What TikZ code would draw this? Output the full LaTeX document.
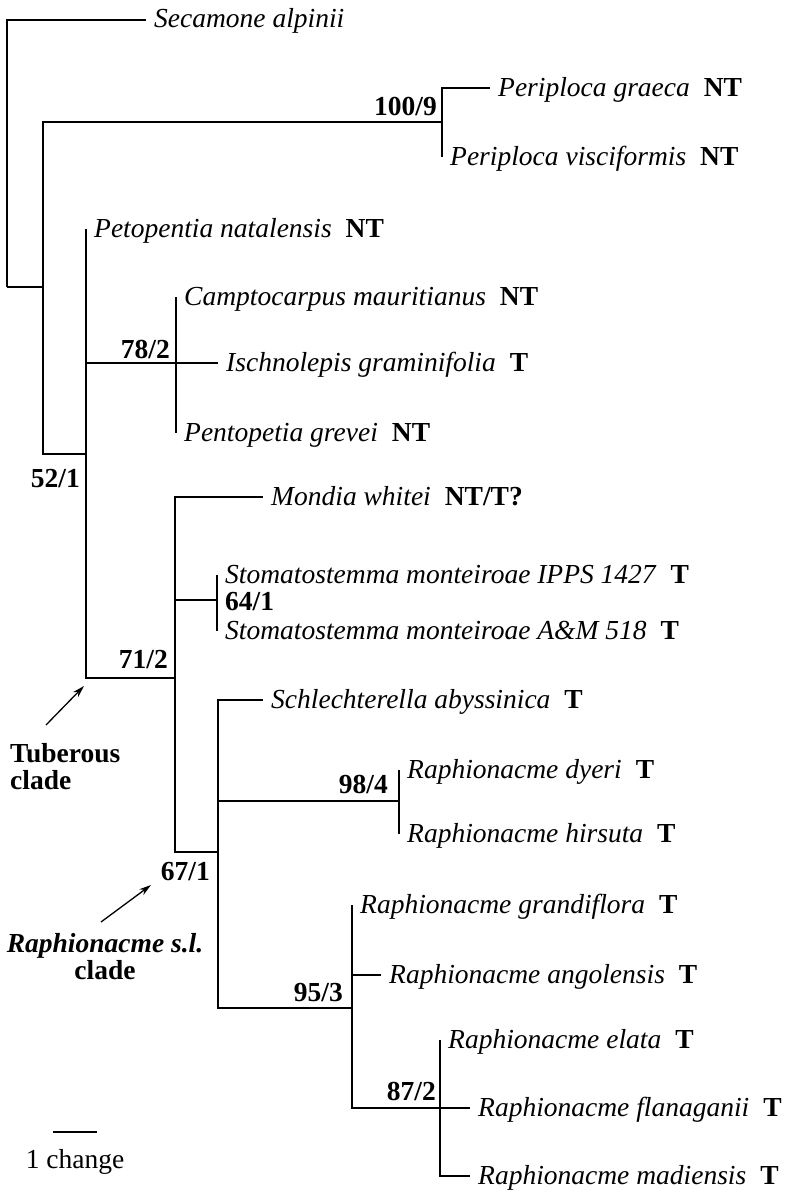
\documentclass[tikz,border=0pt]{standalone}
\usepackage{fontspec}
\setmainfont{Liberation Serif}
\usetikzlibrary{arrows.meta}

\newcommand{\treefont}{\fontsize{27.5}{27}\selectfont}
\tikzstyle{taxon}=[anchor=west,inner xsep=8pt,inner ysep=0pt,text height=21pt,text depth=5pt]
\tikzstyle{support}=[anchor=base east,inner sep=0pt,font=\treefont\bfseries]
\tikzstyle{branch}=[draw,line width=1.8pt,-]
\tikzstyle{pointer}=[draw,line width=1.3pt,-{Stealth[length=12pt,width=7pt]}]
\tikzstyle{clade}=[inner sep=0pt,font=\treefont\bfseries]
\newcommand{\taxname}[2]{\textit{#1}\hspace{14pt}\textbf{#2}}

\begin{document}
\begin{tikzpicture}[x=1pt,y=-1pt,font=\treefont]
  \useasboundingbox (0,0) rectangle (789,1199);
  % internal nodes of the tree
  \foreach \pos/\name in {{(7,287)/root}, {(43,287)/n1}, {(442,122)/peri},
                          {(86,454)/n2}, {(176,363)/c78}, {(175,678)/c71},
                          {(217,600)/c64}, {(218,852)/c67}, {(399,801)/c98},
                          {(352,1008)/c95}, {(440,1108)/c87}}
      \node[coordinate] (\name) at \pos {};

  % terminal taxa
  \node[taxon] (secamone) at (146,20) {\textit{Secamone alpinii}};
  \node[taxon] (graeca) at (490,88) {\taxname{Periploca graeca}{NT}};
  \node[taxon] (visciformis) at (442,157) {\taxname{Periploca visciformis}{NT}};
  \node[taxon] (natalensis) at (86,229) {\taxname{Petopentia natalensis}{NT}};
  \node[taxon] (mauritianus) at (176,297) {\taxname{Camptocarpus mauritianus}{NT}};
  \node[taxon] (graminifolia) at (218,363) {\taxname{Ischnolepis graminifolia}{T}};
  \node[taxon] (grevei) at (176,433) {\taxname{Pentopetia grevei}{NT}};
  \node[taxon] (whitei) at (263,497) {\taxname{Mondia whitei}{NT/T?}};
  \node[taxon] (ipps) at (217,575) {\taxname{Stomatostemma monteiroae IPPS 1427}{T}};
  \node[taxon] (am) at (217,631) {\taxname{Stomatostemma monteiroae A\&M 518}{T}};
  \node[taxon] (abyssinica) at (263,700) {\taxname{Schlechterella abyssinica}{T}};
  \node[taxon] (dyeri) at (399,770) {\taxname{Raphionacme dyeri}{T}};
  \node[taxon] (hirsuta) at (399,834) {\taxname{Raphionacme hirsuta}{T}};
  \node[taxon] (grandiflora) at (352,905) {\taxname{Raphionacme grandiflora}{T}};
  \node[taxon] (angolensis) at (381,975) {\taxname{Raphionacme angolensis}{T}};
  \node[taxon] (elata) at (440,1040) {\taxname{Raphionacme elata}{T}};
  \node[taxon] (flanaganii) at (470,1108) {\taxname{Raphionacme flanaganii}{T}};
  \node[taxon] (madiensis) at (470,1176) {\taxname{Raphionacme madiensis}{T}};

  \foreach \source/\dest in {root/secamone, root/n1, n1/peri, n1/n2,
        peri/graeca, peri/visciformis, n2/natalensis, n2/c78, n2/c71,
        c78/mauritianus, c78/graminifolia, c78/grevei,
        c71/whitei, c71/c64, c71/c67, c64/ipps, c64/am,
        c67/abyssinica, c67/c98, c67/c95, c98/dyeri, c98/hirsuta,
        c95/grandiflora, c95/angolensis, c95/c87,
        c87/elata, c87/flanaganii, c87/madiensis}
      \path[branch] (\source) |- (\dest);

  % support values
  \node[support] (s100) at (437,115) {100/9};
  \node[support] (s78) at (170,358) {78/2};
  \node[support] (s52) at (80,487) {52/1};
  \node[support,anchor=base west] (s64) at (225,610) {64/1};
  \node[support] (s71) at (168,668) {71/2};
  \node[support] (s98) at (388,793) {98/4};
  \node[support] (s67) at (210,880) {67/1};
  \node[support] (s95) at (343,1001) {95/3};
  \node[support] (s87) at (436,1100) {87/2};

  % clades
  \node[clade,anchor=north west,align=left] (tuberous) at (10,743) {Tuberous\\clade};
  \node[clade,anchor=north,align=center] (raphio) at (105,933) {\textit{Raphionacme s.l.}\\clade};
  \coordinate (tubfrom) at (46,725);
  \coordinate (tubto) at (84,686);
  \coordinate (raphfrom) at (101,922);
  \coordinate (raphto) at (151,885);
  \draw[pointer] (tubfrom) -- (tubto);
  \draw[pointer] (raphfrom) -- (raphto);

  % scale bar
  \coordinate (barL) at (53,1132);
  \coordinate (barR) at (97,1132);
  \path[branch] (barL) -- (barR);
  \node[anchor=base,inner sep=0pt] (unit) at (75,1168) {1 change};
\end{tikzpicture}
\end{document}
